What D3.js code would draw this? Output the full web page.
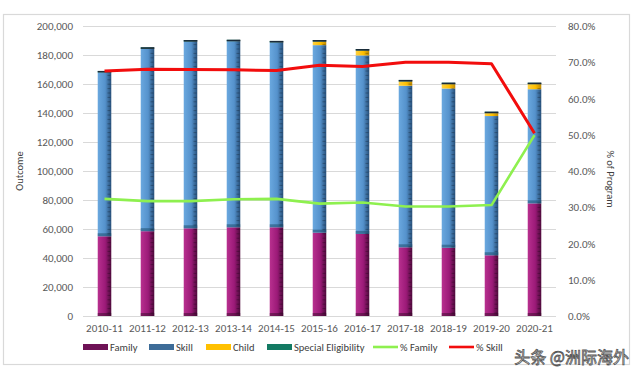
<!DOCTYPE html>
<html>
<head>
<meta charset="utf-8">
<script src="https://cdn.jsdelivr.net/npm/d3@7/dist/d3.min.js"></script>
<style>
  html, body { margin: 0; padding: 0; background: #fff; }
  svg { display: block; }
  text { font-family: Calibri, Carlito, "Liberation Sans", "Open Sans", sans-serif; }
</style>
</head>
<body>
<svg id="chart" width="640" height="378"></svg>
<script>
const categories = ["2010-11","2011-12","2012-13","2013-14","2014-15","2015-16","2016-17","2017-18","2018-19","2019-20","2020-21"];
const family  = [55000, 58500, 60500, 61200, 61200, 57500, 56600, 47400, 47100, 41900, 77700];
const skill   = [113000,125800,128800,128300,127500,129300,123100,111400,109800, 96000, 78700];
const child   = [0, 0, 0, 0, 0, 2500, 3400, 3000, 3000, 2000, 3500];
const special = [1000,1000,1000,1000,1000,1000,1000,1000,1000,1000,1000];
const pctFamily = [0.323, 0.317, 0.317, 0.322, 0.323, 0.310, 0.313, 0.302, 0.302, 0.306, 0.499];
const pctSkill  = [0.676, 0.681, 0.680, 0.679, 0.677, 0.692, 0.688, 0.700, 0.700, 0.696, 0.504];
const leftTicks  = [0,20000,40000,60000,80000,100000,120000,140000,160000,180000,200000];
const rightTicks = [0,0.1,0.2,0.3,0.4,0.5,0.6,0.7,0.8];
const seriesNames = ["Family","Skill","Child","Special Eligibility"];

const svg = d3.select("#chart");
const plot = {left: 83, right: 556, top: 26, bottom: 316};

// frame
svg.append("rect").attr("x", 3.5).attr("y", 14.5).attr("width", 626).attr("height", 350)
  .attr("fill", "#fff").attr("stroke", "#d9d9d9").attr("stroke-width", 1.2);

const x = d3.scaleBand().domain(categories).range([plot.left, plot.right])
  .paddingInner(0.685).paddingOuter(0.3425);
const y = d3.scaleLinear().domain([0, 200000]).range([plot.bottom, plot.top]);
const y2 = d3.scaleLinear().domain([0, 0.8]).range([plot.bottom, plot.top]);

// gradients
const defs = svg.append("defs");
const colors = {
  "Family": ["#b8308f", "#9c1a78", "#4f0a3c"],
  "Skill": ["#6aa8df", "#5592cc", "#27507a"],
  "Child": ["#ffd040", "#ffc000", "#c08a00"],
  "Special Eligibility": ["#1a8a72", "#0f6e5a", "#062e28"]
};
seriesNames.forEach((n, i) => {
  const g = defs.append("linearGradient").attr("id", "g" + i)
    .attr("x1", "0%").attr("x2", "100%").attr("y1", "0%").attr("y2", "0%");
  g.append("stop").attr("offset", "0%").attr("stop-color", colors[n][0]);
  g.append("stop").attr("offset", "55%").attr("stop-color", colors[n][1]);
  g.append("stop").attr("offset", "100%").attr("stop-color", colors[n][2]);
});

// gridlines
svg.append("g").selectAll("line").data(leftTicks).join("line")
  .attr("x1", plot.left).attr("x2", plot.right)
  .attr("y1", d => Math.round(y(d)) + 0.5).attr("y2", d => Math.round(y(d)) + 0.5)
  .attr("stroke", "#d9d9d9").attr("stroke-width", 1);

// left axis
const axL = svg.append("g").attr("transform", `translate(${plot.left - 10},0)`)
  .call(d3.axisLeft(y).tickValues(leftTicks).tickSize(0).tickPadding(0).tickFormat(d3.format(",")));
axL.select(".domain").remove();
axL.selectAll("text").attr("fill", "#595959").style("font-size", "11px");

// right axis
const axR = svg.append("g").attr("transform", `translate(${plot.right + 12},0)`)
  .call(d3.axisRight(y2).tickValues(rightTicks).tickSize(0).tickPadding(0).tickFormat(d3.format(".1%")));
axR.select(".domain").remove();
axR.selectAll("text").attr("fill", "#595959").style("font-size", "11px");

// bottom axis labels
const axB = svg.append("g").attr("transform", `translate(0,${plot.bottom + 8})`)
  .call(d3.axisBottom(x).tickSize(0).tickPadding(0));
axB.select(".domain").remove();
axB.selectAll("text").attr("fill", "#595959").style("font-size", "11px");

// axis titles
svg.append("text").attr("transform", `translate(23,${(plot.top + plot.bottom) / 2}) rotate(-90)`)
  .attr("text-anchor", "middle").attr("fill", "#404040").style("font-size", "10.5px").text("Outcome");
svg.append("text").attr("transform", `translate(607,${(plot.top + plot.bottom) / 2 + 8}) rotate(90)`)
  .attr("text-anchor", "middle").attr("fill", "#404040").style("font-size", "10.5px").text("% of Program");

// stacked bars
const rows = categories.map((c, i) => ({cat: c, "Family": family[i], "Skill": skill[i], "Child": child[i], "Special Eligibility": special[i]}));
const stacked = d3.stack().keys(seriesNames)(rows);
stacked.forEach((layer, li) => {
  svg.append("g").selectAll("rect").data(layer).join("rect")
    .attr("x", d => x(d.data.cat))
    .attr("width", x.bandwidth())
    .attr("y", d => y(d[1]))
    .attr("height", d => Math.max(0, y(d[0]) - y(d[1])))
    .attr("fill", `url(#g${li})`);
});
// bevel shading at bottom of skill segment and at base
svg.append("g").selectAll("rect").data(stacked[1]).join("rect")
  .attr("x", d => x(d.data.cat)).attr("width", x.bandwidth())
  .attr("y", d => y(d[0]) - 3).attr("height", 3)
  .attr("fill", "#1f4f6e").attr("opacity", 0.55);
svg.append("g").selectAll("rect").data(stacked[0]).join("rect")
  .attr("x", d => x(d.data.cat)).attr("width", x.bandwidth())
  .attr("y", d => y(d[0]) - 3).attr("height", 3)
  .attr("fill", "#3a0a2c").attr("opacity", 0.5);
// dark top cap
svg.append("g").selectAll("rect").data(stacked[3]).join("rect")
  .attr("x", d => x(d.data.cat)).attr("width", x.bandwidth())
  .attr("y", d => y(d[1])).attr("height", 1.5)
  .attr("fill", "#1b2a38");
// texture dashes on right side
const dashG = svg.append("g");
rows.forEach((r, i) => {
  const top = y(family[i] + skill[i] + child[i] + special[i]);
  const x0 = x(r.cat) + x.bandwidth() * 0.72;
  const ys = d3.range(plot.bottom - 3, top + 4, -4.4);
  dashG.selectAll(null).data(ys).join("line")
    .attr("x1", x0).attr("x2", x0 + 3).attr("y1", d => d).attr("y2", d => d)
    .attr("stroke", "#000").attr("stroke-opacity", 0.25).attr("stroke-width", 1);
});

// lines
const xc = d => x(d) + x.bandwidth() / 2;
const lineGen = d3.line().x(d => xc(d.cat)).y(d => y2(d.v));
svg.append("path").datum(categories.map((c, i) => ({cat: c, v: pctFamily[i]})))
  .attr("d", lineGen).attr("fill", "none").attr("stroke", "#8ef04f").attr("stroke-width", 2.6)
  .attr("stroke-linejoin", "round");
svg.append("path").datum(categories.map((c, i) => ({cat: c, v: pctSkill[i]})))
  .attr("d", lineGen).attr("fill", "none").attr("stroke", "#f20d0d").attr("stroke-width", 3)
  .attr("stroke-linejoin", "round");

// legend
const legendY = 347;
const legend = [
  {name: "Family", type: "rect", color: "#6e1256", x: 83},
  {name: "Skill", type: "rect", color: "#3d6c98", x: 149},
  {name: "Child", type: "rect", color: "#ffc000", x: 206},
  {name: "Special Eligibility", type: "rect", color: "#137a63", x: 267},
  {name: "% Family", type: "line", color: "#8ef04f", x: 373},
  {name: "% Skill", type: "line", color: "#f20d0d", x: 449}
];
const lg = svg.append("g");
legend.forEach(l => {
  if (l.type === "rect") {
    lg.append("rect").attr("x", l.x).attr("y", legendY - 3).attr("width", 25).attr("height", 6).attr("fill", l.color);
  } else {
    lg.append("line").attr("x1", l.x).attr("x2", l.x + 25).attr("y1", legendY).attr("y2", legendY)
      .attr("stroke", l.color).attr("stroke-width", 2.6);
  }
  lg.append("text").attr("x", l.x + 27).attr("y", legendY).attr("dy", "0.35em")
    .attr("fill", "#404040").style("font-size", "10.5px").text(l.name);
});

// watermark
svg.append("text").attr("x", 629).attr("y", 363).attr("text-anchor", "end")
  .style("font-family", "'Noto Sans CJK SC', sans-serif").style("font-size", "16px")
  .attr("fill", "#ffffff").attr("stroke", "#555").attr("stroke-width", 0.8)
  .text("头条 @洲际海外");
</script>
</body>
</html>
